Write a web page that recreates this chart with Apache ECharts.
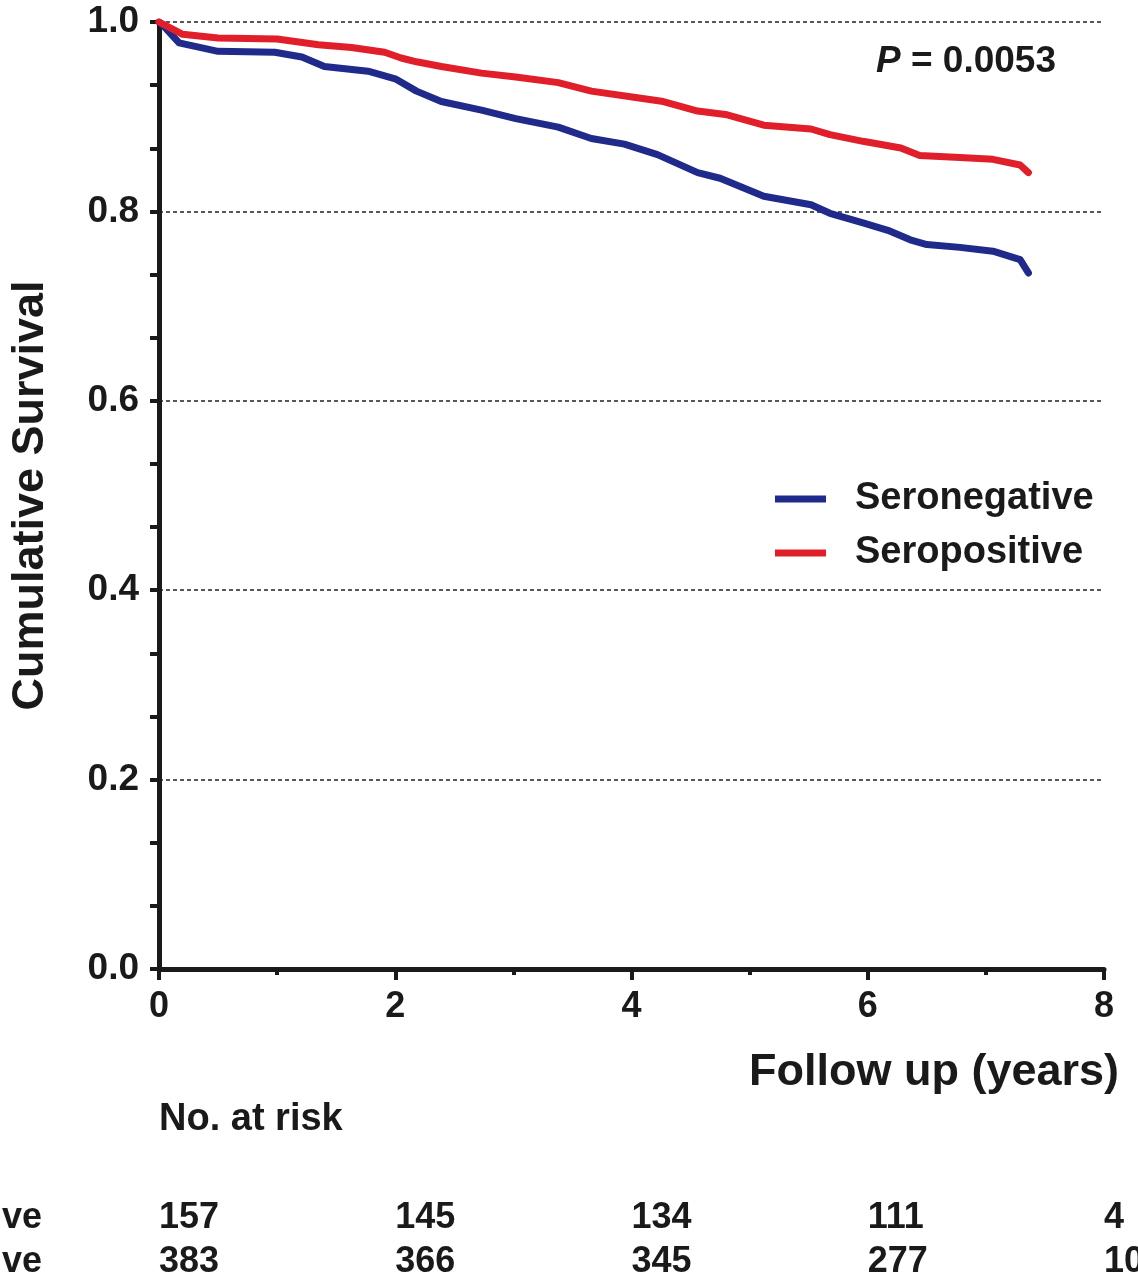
<!DOCTYPE html>
<html>
<head>
<meta charset="utf-8">
<script src="https://cdn.jsdelivr.net/npm/echarts@6/dist/echarts.min.js"></script>
<style>
html,body{margin:0;padding:0;background:#fff;}
#chart{width:1138px;height:1286px;}
</style>
</head>
<body>
<div id="chart"></div>
<script>
// ---- data ----
var seroNegTime = [0, 0.03, 0.17, 0.5, 0.98, 1.21, 1.4, 1.77, 2.0, 2.18, 2.39, 2.73, 3.02, 3.38, 3.66, 3.94, 4.22, 4.56, 4.75, 5.12, 5.52, 5.68, 5.96, 6.17, 6.36, 6.5, 6.78, 7.06, 7.29, 7.36];
var seroNegSurv = [1.0, 0.997, 0.978, 0.969, 0.968, 0.963, 0.953, 0.948, 0.940, 0.927, 0.916, 0.907, 0.898, 0.889, 0.877, 0.871, 0.860, 0.841, 0.835, 0.816, 0.807, 0.798, 0.788, 0.780, 0.770, 0.765, 0.762, 0.758, 0.749, 0.735];
var seroPosTime = [0, 0.2, 0.5, 1.0, 1.35, 1.63, 1.91, 2.05, 2.18, 2.39, 2.73, 3.02, 3.38, 3.66, 4.05, 4.27, 4.56, 4.81, 5.12, 5.52, 5.68, 5.96, 6.28, 6.44, 6.78, 7.06, 7.29, 7.36];
var seroPosSurv = [1.0, 0.987, 0.983, 0.982, 0.976, 0.973, 0.968, 0.962, 0.958, 0.953, 0.946, 0.942, 0.936, 0.927, 0.920, 0.916, 0.906, 0.902, 0.891, 0.887, 0.881, 0.874, 0.867, 0.859, 0.857, 0.855, 0.849, 0.841];
var seriesNames = ['Seronegative', 'Seropositive'];
var riskYears = [0, 2, 4, 6, 8];
var riskSeroNeg = [157, 145, 134, 111, 4];
var riskSeroPos = [383, 366, 345, 277, 10];
var pValueText = '0.0053';

// ---- chart ----
var FONT = '"Liberation Sans", Arial, sans-serif';
var INK = '#1a1a1a';
function pairs(t, s) { return t.map(function (v, i) { return [v, s[i]]; }); }

var chart = echarts.init(document.getElementById('chart'), null, {renderer: 'canvas'});
var option = {
  backgroundColor: '#ffffff',
  animation: false,
  textStyle: {fontFamily: FONT, color: INK, fontWeight: 'bold'},
  grid: {left: 156, right: 34, top: 22, bottom: 317, containLabel: false},
  title: {
    text: '{i|P} = ' + pValueText,
    left: 871, top: 38,
    textStyle: {
      fontFamily: FONT, fontSize: 37, fontWeight: 'bold', color: INK,
      rich: {i: {fontFamily: FONT, fontSize: 37, fontWeight: 'bold', fontStyle: 'italic', color: INK}}
    }
  },
  legend: {
    orient: 'vertical',
    left: 775, top: 477, padding: 0,
    itemWidth: 51, itemHeight: 7,
    itemGap: 10,
    icon: 'rect',
    data: seriesNames,
    textStyle: {fontFamily: FONT, fontSize: 38, fontWeight: 'bold', color: INK, lineHeight: 44, padding: [0, 0, 0, 24]}
  },
  xAxis: {
    type: 'value', min: 0, max: 8, interval: 2,
    name: 'Follow up (years)',
    nameLocation: 'end', nameGap: 15,
    nameTextStyle: {fontFamily: FONT, fontSize: 45, fontWeight: 'bold', color: INK, align: 'right', verticalAlign: 'top', padding: [81, 0, 0, 0]},
    axisLine: {show: true, lineStyle: {color: INK, width: 5}},
    axisTick: {show: true, inside: false, length: 11, lineStyle: {color: INK, width: 4}},
    minorTick: {show: true, splitNumber: 2, length: 6, lineStyle: {color: INK, width: 4}},
    axisLabel: {margin: 20, fontFamily: FONT, fontSize: 36, fontWeight: 'bold', color: INK},
    splitLine: {show: false}
  },
  yAxis: {
    type: 'value', min: 0, max: 1, interval: 0.2,
    name: 'Cumulative Survival',
    nameLocation: 'middle', nameGap: 106,
    nameTextStyle: {fontFamily: FONT, fontSize: 45, fontWeight: 'bold', color: INK},
    axisLine: {show: true, lineStyle: {color: INK, width: 5}},
    axisTick: {show: true, inside: false, length: 9, lineStyle: {color: INK, width: 4}},
    minorTick: {show: true, splitNumber: 3, length: 9, lineStyle: {color: INK, width: 4}},
    axisLabel: {margin: 20, fontFamily: FONT, fontSize: 37, fontWeight: 'bold', color: INK,
      formatter: function (v) { return v.toFixed(1); }},
    splitLine: {show: true, lineStyle: {color: '#222', width: 1.5, type: [4, 3]}}
  },
  series: [
    {
      name: seriesNames[0], type: 'line', data: pairs(seroNegTime, seroNegSurv),
      showSymbol: false, symbol: 'none', z: 3,
      itemStyle: {color: '#1f2a8a'},
      lineStyle: {color: '#1f2a8a', width: 7, join: 'round', cap: 'round'}
    },
    {
      name: seriesNames[1], type: 'line', data: pairs(seroPosTime, seroPosSurv),
      showSymbol: false, symbol: 'none', z: 4,
      itemStyle: {color: '#e01f2b'},
      lineStyle: {color: '#e01f2b', width: 7, join: 'round', cap: 'round'}
    }
  ]
};
chart.setOption(option);

// risk table positioned through the x-axis scale
var riskTitleX = chart.convertToPixel({xAxisIndex: 0}, 0);
var graphics = [{
  type: 'text', x: riskTitleX, y: 1120,
  style: {text: 'No. at risk', font: 'bold 38px ' + FONT, fill: INK, textAlign: 'left', textVerticalAlign: 'middle'}
}];
var rowY = [1218, 1262];
var rowLabels = seriesNames;
var rowVals = [riskSeroNeg, riskSeroPos];
rowLabels.forEach(function (lab, r) {
  graphics.push({type: 'text', x: 42, y: rowY[r],
    style: {text: lab, font: 'bold 36px ' + FONT, fill: INK, textAlign: 'right', textVerticalAlign: 'middle'}});
  riskYears.forEach(function (yr, i) {
    var px = chart.convertToPixel({xAxisIndex: 0}, yr);
    graphics.push({type: 'text', x: px, y: rowY[r],
      style: {text: String(rowVals[r][i]), font: 'bold 36px ' + FONT, fill: INK, textAlign: 'left', textVerticalAlign: 'middle'}});
  });
});
chart.setOption({graphic: graphics});
</script>
</body>
</html>
